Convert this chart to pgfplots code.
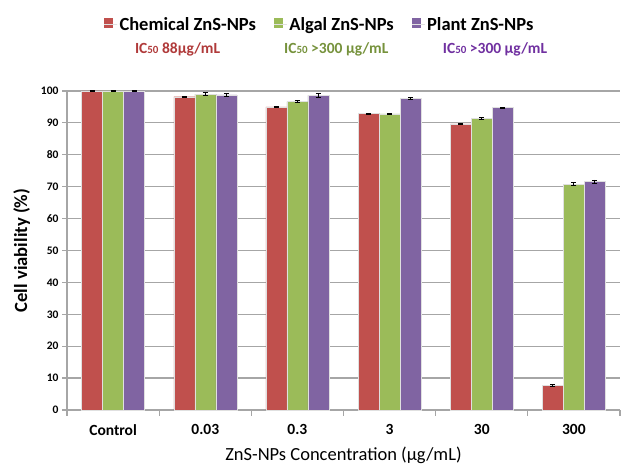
\documentclass[border=0pt]{standalone}
\usepackage{pgfplots}
\pgfplotsset{compat=1.18}
\usepackage{pgfplotstable}
\usepackage{fontspec}
\setmainfont{Carlito}
\usetikzlibrary{calc}
\definecolor{cred}{HTML}{C0504D}
\definecolor{cgreen}{HTML}{9BBB59}
\definecolor{cpurple}{HTML}{8064A2}
\definecolor{tred}{HTML}{B03A3A}
\definecolor{tgreen}{HTML}{76923C}
\definecolor{tpurple}{HTML}{7030A0}
\definecolor{gridgray}{HTML}{A6A6A6}

\pgfplotstableread{
x y e
0 100.0 0.1
1 98.2 0.15
2 95.0 0.25
3 92.9 0.15
4 89.7 0.15
5 7.8 0.35
}\chem
\pgfplotstableread{
x y e
0 100.0 0.1
1 99.0 0.5
2 96.7 0.3
3 92.8 0.15
4 91.4 0.2
5 70.8 0.4
}\algal
\pgfplotstableread{
x y e
0 100.0 0.1
1 98.8 0.5
2 98.6 0.6
3 97.8 0.3
4 94.8 0.15
5 71.6 0.5
}\plant

\begin{document}
\begin{tikzpicture}
\begin{axis}[
  name=ax,
  scale only axis, width=553pt, height=319pt,
  clip=false,
  ybar=0pt, bar width=21pt,
  xmin=-0.5, xmax=5.5, ymin=0, ymax=100,
  axis x line*=bottom, axis y line*=left,
  axis line style={gridgray, line width=1.2pt, -},
  xtick={0,...,5}, xticklabels={Control,0.03,0.3,3,30,300},
  minor xtick={-0.5,0.5,1.5,2.5,3.5,4.5,5.5},
  major x tick style={draw=none},
  minor x tick style={gridgray, line width=1.2pt},
  y tick style={gridgray, line width=1.2pt},
  tick align=outside,
  minor tick length=6pt, major tick length=5pt,
  ytick={0,10,...,100},
  ymajorgrids, grid style={gridgray, line width=1.2pt},
  /pgf/number format/assume math mode=true,
  y tick label style={font=\bfseries\fontsize{11.5}{13}\selectfont},
  x tick label style={font=\bfseries\fontsize{15.5}{17}\selectfont, yshift=-6pt},
  xlabel={ZnS-NPs Concentration (µg/mL)},
  xlabel style={font=\fontsize{18.5}{21}\selectfont, yshift=-5pt},
  ylabel={Cell viability (\%)},
  ylabel style={font=\bfseries\fontsize{18.6}{21}\selectfont, yshift=4pt},
  legend columns=3,
  legend style={at={(rel axis cs:0.457,1.209)}, anchor=center, draw=none, fill=none,
    font=\bfseries\fontsize{18.5}{21}\selectfont,
    /tikz/every even column/.append style={column sep=16pt}},
  legend image code/.code={\path[#1, draw=none] (0pt,-3.5pt) rectangle (9pt,6.5pt); \path (0pt,0pt) -- (13pt,0pt);},
  error bars/y dir=both, error bars/y explicit,
  error bars/error bar style={black, line width=0.9pt},
  error bars/error mark options={black, rotate=90, mark size=2.5pt, line width=0.9pt},
]
\addplot[fill=cred, draw=black!12] table[x=x, y=y, y error=e] {\chem};
\addplot[fill=cgreen, draw=black!12] table[x=x, y=y, y error=e] {\algal};
\addplot[fill=cpurple, draw=black!12] table[x=x, y=y, y error=e] {\plant};
\legend{Chemical ZnS-NPs, Algal ZnS-NPs, Plant ZnS-NPs}
\node[tred, font=\bfseries\fontsize{15.5}{18}\selectfont] at (rel axis cs:0.2,1.129) {IC{\fontsize{11}{12}\selectfont 50} 88µg/mL};
\node[tgreen, font=\bfseries\fontsize{15.5}{18}\selectfont] at (rel axis cs:0.487,1.129) {IC{\fontsize{11}{12}\selectfont 50} >300 µg/mL};
\node[tpurple, font=\bfseries\fontsize{15.5}{18}\selectfont] at (rel axis cs:0.774,1.129) {IC{\fontsize{11}{12}\selectfont 50} >300 µg/mL};
\end{axis}
\pgfresetboundingbox
\path ($(ax.south west)+(-67pt,-57pt)$) rectangle ($(ax.north east)+(2pt,91pt)$);
\end{tikzpicture}
\end{document}
